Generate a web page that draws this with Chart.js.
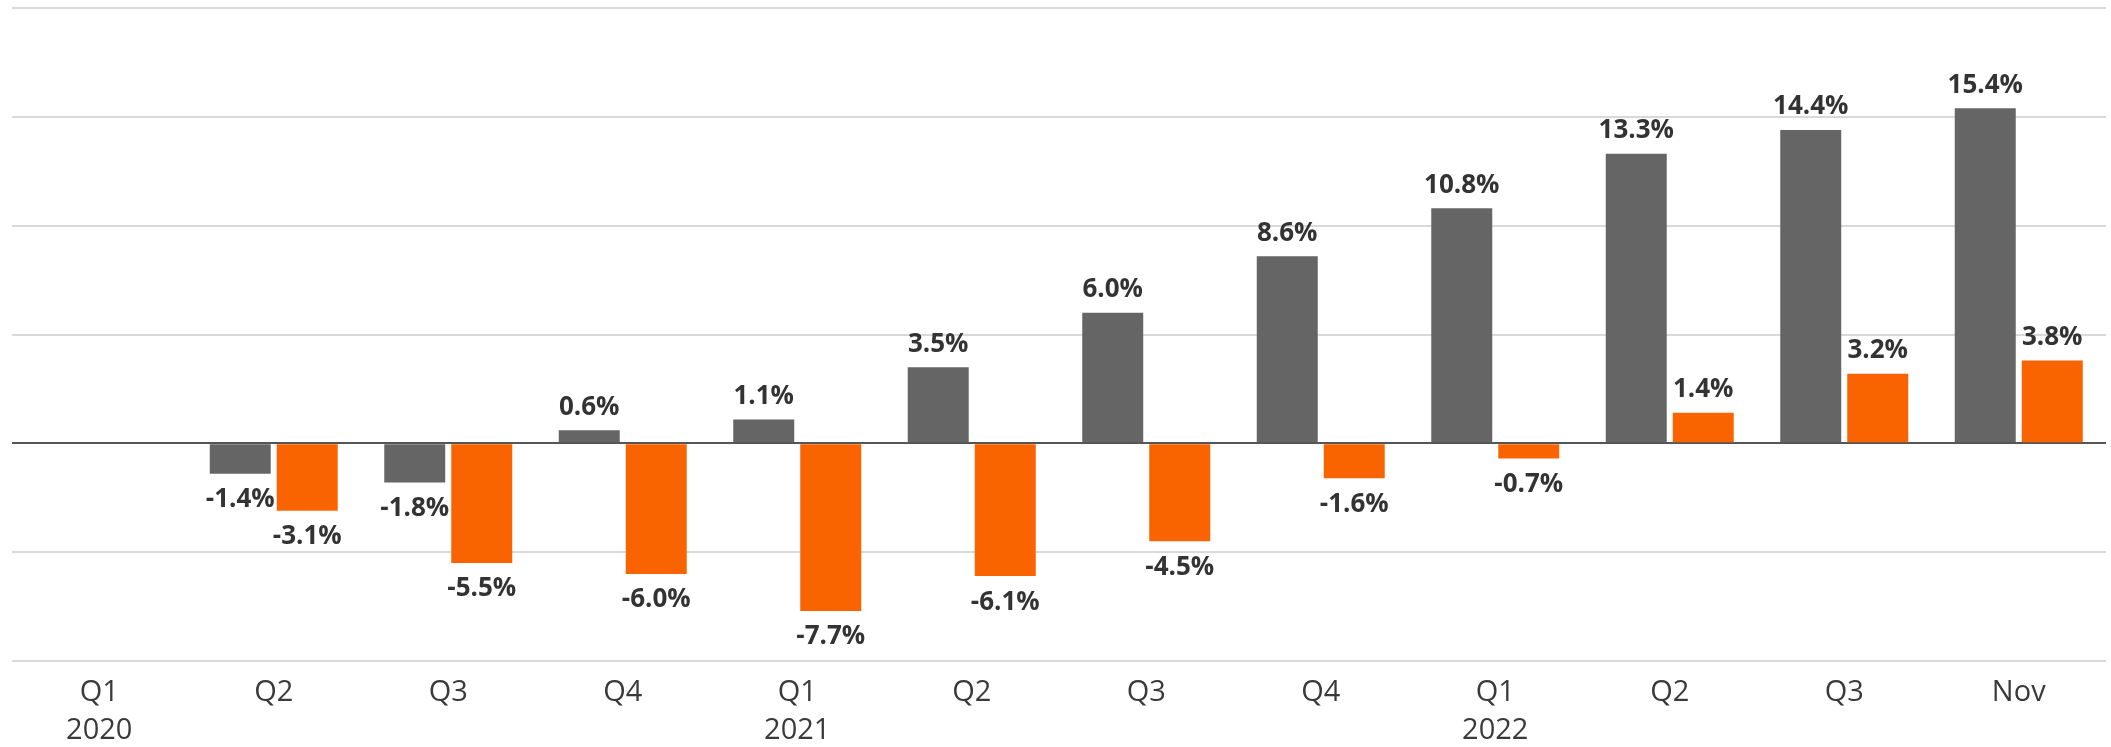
<!DOCTYPE html>
<html>
<head>
<meta charset="utf-8">
<script src="https://cdn.jsdelivr.net/npm/chart.js@4.4.1/dist/chart.umd.min.js"></script>
<style>
  html, body { margin: 0; padding: 0; background: #fff; }
  .chart-wrap { width: 2111px; height: 747px; position: relative; }
</style>
</head>
<body>
<div class="chart-wrap"><canvas id="growth-chart"></canvas></div>
<script>
// data
var periods = [
  ['Q1', '2020'], 'Q2', 'Q3', 'Q4',
  ['Q1', '2021'], 'Q2', 'Q3', 'Q4',
  ['Q1', '2022'], 'Q2', 'Q3', 'Nov'
];
var greySeries = [null, -1.4, -1.8, 0.6, 1.1, 3.5, 6.0, 8.6, 10.8, 13.3, 14.4, 15.4];
var orangeSeries = [null, -3.1, -5.5, -6.0, -7.7, -6.1, -4.5, -1.6, -0.7, 1.4, 3.2, 3.8];
var yTicks = [-10, -5, 0, 5, 10, 15, 20];

//  value labels above / below each bar
var barLabels = {
  id: 'barLabels',
  afterDatasetsDraw: function(chart) {
    var ctx = chart.ctx;
    ctx.save();
    ctx.font = 'bold 26px "Open Sans", "Noto Sans", sans-serif';
    ctx.fillStyle = '#333333';
    ctx.textAlign = 'center';
    ctx.textBaseline = 'middle';
    chart.data.datasets.forEach(function(ds, i) {
      var meta = chart.getDatasetMeta(i);
      meta.data.forEach(function(bar, j) {
        var v = ds.data[j];
        if (v === null) return;
        var y = v >= 0 ? bar.y - 23 : bar.y + 26;
        ctx.fillText(v.toFixed(1) + '%', bar.x, y);
      });
    });
    ctx.restore();
  }
};

(function() {
  var ctx = document.getElementById('growth-chart');
  new Chart(ctx, {
    type: 'bar',
    data: {
      labels: periods,
      datasets: [
        {
          label: 'Grey',
          backgroundColor: '#656565',
          data: greySeries,
          categoryPercentage: 0.768,
          barPercentage: 0.91
        },
        {
          label: 'Orange',
          backgroundColor: '#fa6400',
          data: orangeSeries,
          categoryPercentage: 0.768,
          barPercentage: 0.91
        }
      ]
    },
    options: {
      responsive: true,
      maintainAspectRatio: false,
      animation: false,
      layout: { padding: { left: 12, right: 5, top: 8, bottom: 0 } },
      plugins: {
        legend: { display: false },
        tooltip: { enabled: false }
      },
      scales: {
        x: {
          afterFit: function(axis) { axis.height = 86; },
          grid: { display: false, drawTicks: false },
          border: { display: false },
          ticks: {
            color: '#3a3a3a',
            padding: 13,
            maxRotation: 0,
            autoSkip: false,
            font: { family: '"Open Sans", "Noto Sans", sans-serif', size: 29, lineHeight: 1.3 }
          }
        },
        y: {
          min: -10,
          max: 20,
          afterBuildTicks: function(axis) {
            axis.ticks = yTicks.map(function(v) { return { value: v }; });
          },
          border: { display: false },
          grid: {
            drawTicks: false,
            lineWidth: 2,
            color: function(c) {
              return c.tick && c.tick.value === 0 ? '#555555' : '#d9d9d9';
            }
          },
          ticks: { display: false }
        }
      }
    },
    plugins: [barLabels]
  });
})();
</script>
</body>
</html>
